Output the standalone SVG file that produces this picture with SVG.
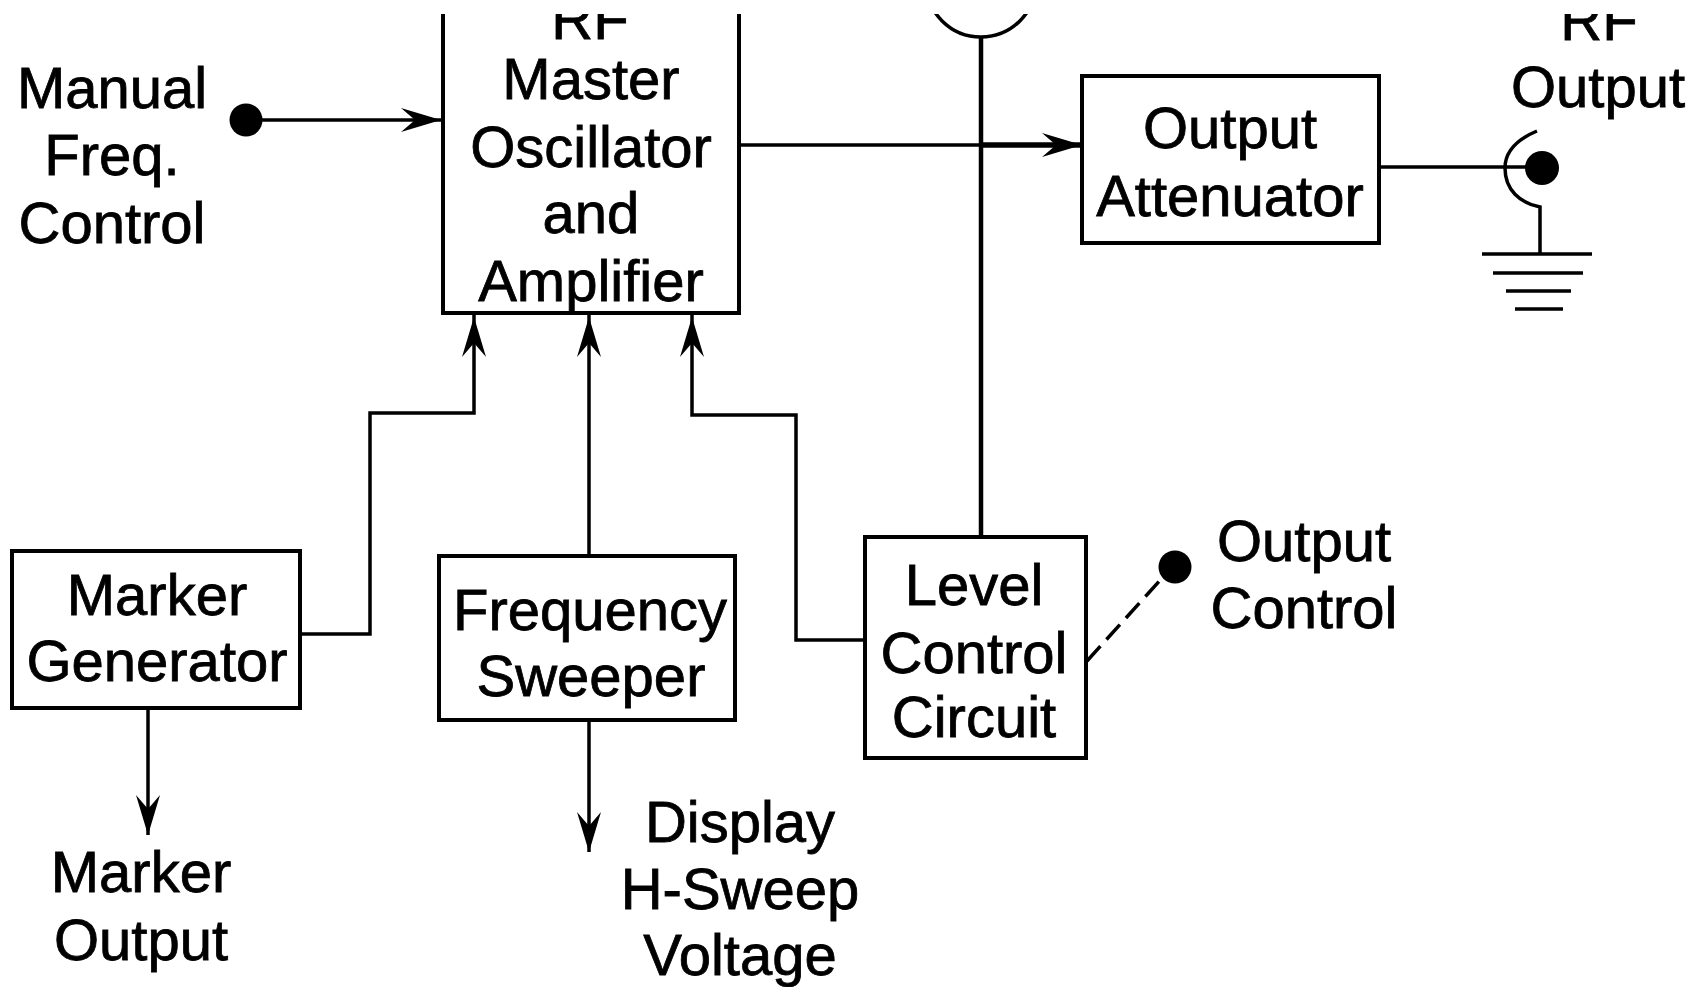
<svg xmlns="http://www.w3.org/2000/svg" width="1698" height="987" viewBox="0 0 1698 987">
<style>
.box{fill:none;stroke:#000;stroke-width:4}
.line{fill:none;stroke:#000;stroke-width:3.5}
text{font-family:"Liberation Sans",Arial,sans-serif;font-size:58px;fill:#000;text-anchor:middle;stroke:#000;stroke-width:.8}
</style>
<defs>
<clipPath id="page"><rect x="0" y="14" width="1698" height="973"/></clipPath>
<polygon id="ah" points="0,0 -40,-12 -26,0 -40,12" fill="#000"/>
</defs>
<rect width="1698" height="987" fill="#fff"/>
<g clip-path="url(#page)">
<g id="connectors">
<path class="line" d="M246 120H441"/>
<use href="#ah" transform="translate(441 120)"/>
<path class="line" d="M738 145H1082"/>
<path d="M981 145H1082" fill="none" stroke="#000" stroke-width="5.5"/>
<use href="#ah" transform="translate(1082 145)"/>
<path d="M981 37V536" fill="none" stroke="#000" stroke-width="4.5"/>
<path class="line" d="M300 634H370V413H474V313"/>
<use href="#ah" transform="translate(474 317) rotate(-90)"/>
<path class="line" d="M589 555V313"/>
<use href="#ah" transform="translate(589 317) rotate(-90)"/>
<path class="line" d="M864 640H796V415H692V313"/>
<use href="#ah" transform="translate(692 317) rotate(-90)"/>
<path class="line" d="M148 708V835"/>
<use href="#ah" transform="translate(148 835) rotate(90)"/>
<path class="line" d="M589 719V852"/>
<use href="#ah" transform="translate(589 852) rotate(90)"/>
<path class="line" d="M1379 167H1542"/>
<path class="line" d="M1087 661L1164 576" stroke-dasharray="20 9"/>
</g>
<g id="manual-freq-control">
<circle cx="246" cy="120" r="16.5"/>
<text x="112" y="108">Manual</text><text x="112" y="175">Freq.</text><text x="112" y="243">Control</text>
</g>
<g id="master-oscillator">
<rect class="box" x="443" y="0" width="296" height="313"/>
<text x="590" y="39">RF</text><text x="591" y="99">Master</text><text x="591" y="167">Oscillator</text><text x="591" y="233">and</text><text x="591" y="301">Amplifier</text>
</g>
<g id="meter">
<circle class="line" cx="981" cy="-18" r="55"/>
</g>
<g id="output-attenuator">
<rect class="box" x="1082" y="76" width="297" height="167"/>
<text x="1230" y="148">Output</text><text x="1230" y="216">Attenuator</text>
</g>
<g id="rf-output">
<path class="line" d="M1537 131C1518 139 1505 150 1505 168C1505 190 1520 203 1540 207V254"/>
<circle cx="1542" cy="168" r="17"/>
<path class="line" d="M1482 254H1592M1493 273H1583M1506 291H1571M1515 309H1563"/>
<text x="1599" y="40">RF</text><text x="1598" y="107">Output</text>
</g>
<g id="marker-generator">
<rect class="box" x="12" y="551" width="288" height="157"/>
<text x="157" y="615">Marker</text><text x="157" y="681">Generator</text>
</g>
<g id="frequency-sweeper">
<rect class="box" x="439" y="556" width="296" height="164"/>
<text x="590" y="630">Frequency</text><text x="591" y="696">Sweeper</text>
</g>
<g id="level-control-circuit">
<rect class="box" x="865" y="537" width="221" height="221"/>
<text x="974" y="605">Level</text><text x="974" y="673">Control</text><text x="974" y="737">Circuit</text>
</g>
<g id="output-control">
<circle cx="1175" cy="567" r="16.5"/>
<text x="1304" y="561">Output</text><text x="1304" y="628">Control</text>
</g>
<g id="marker-output">
<text x="141" y="892">Marker</text><text x="141" y="960">Output</text>
</g>
<g id="display-h-sweep">
<text x="740" y="842">Display</text><text x="740" y="909">H-Sweep</text><text x="740" y="975">Voltage</text>
</g>
</g>
</svg>
